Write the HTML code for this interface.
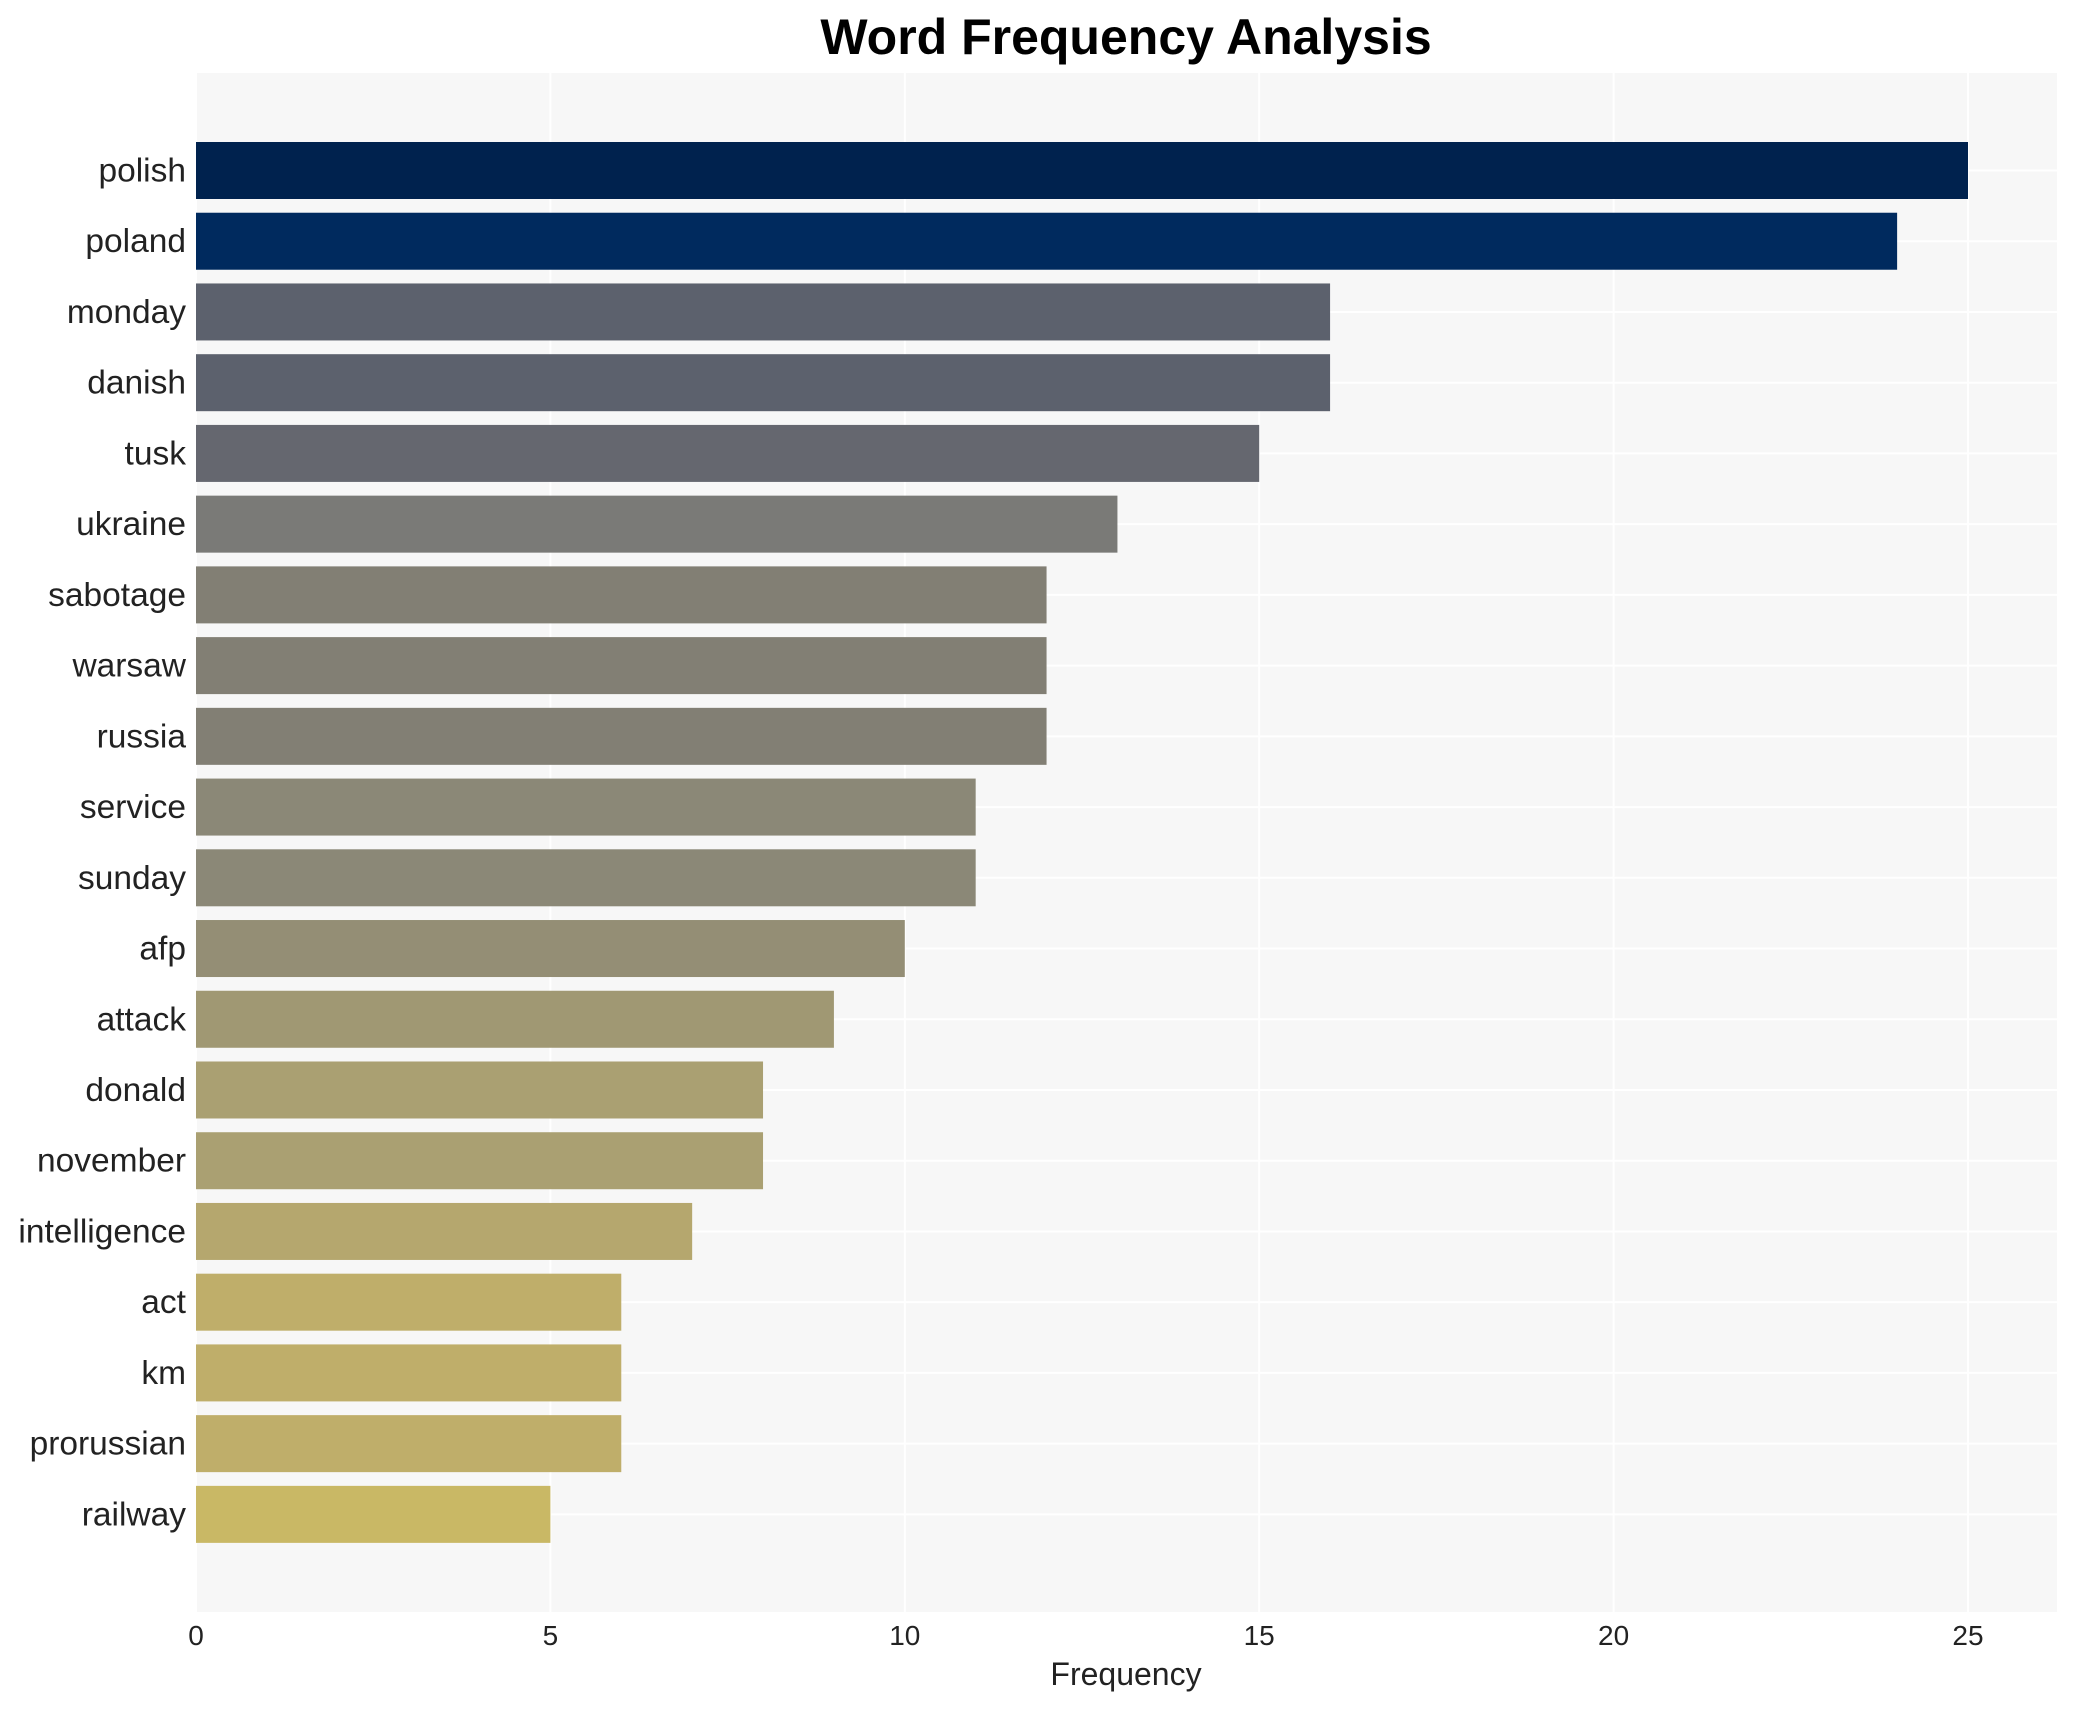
<!DOCTYPE html>
<html><head><meta charset="utf-8"><style>
body{margin:0;background:#fff;}
svg{display:block;font-family:"Liberation Sans",Arial,sans-serif;}
</style></head><body>
<svg id="chart" width="2076" height="1710" xmlns="http://www.w3.org/2000/svg">
<rect x="0" y="0" width="2076" height="1710" fill="#ffffff"/>
<text x="1126" y="54" text-anchor="middle" font-size="50" font-weight="bold" fill="#000">Word Frequency Analysis</text>
<rect x="196" y="73" width="1861" height="1539" fill="#f7f7f7"/>
<g id="grid"></g>
<g id="bars"></g>
<g id="xticks"></g>
<g id="yticks"></g>
<text x="1126" y="1685" text-anchor="middle" font-size="32" fill="#222">Frequency</text>
</svg>
<script>
const categories = ["polish","poland","monday","danish","tusk","ukraine","sabotage","warsaw","russia","service","sunday","afp","attack","donald","november","intelligence","act","km","prorussian","railway"];
const values = [25,24,16,16,15,13,12,12,12,11,11,10,9,8,8,7,6,6,6,5];
const barColors = ["#00224e","#002a5e","#5c616d","#5c616d","#65676f","#7a7a77","#827f74","#827f74","#827f74","#8b8877","#8b8877","#948e75","#a09873","#aaa072","#aaa072","#b5a76e","#bfae6a","#bfae6a","#bfae6a","#c9b865"];
const xTicks = [0,5,10,15,20,25];

const NS="http://www.w3.org/2000/svg";
const x0=196, xUnit=(1968-196)/25;
const xScale=v=>x0+v*xUnit;
const y0=170.5, yStep=70.73, barH=57;
const yScale=i=>y0+i*yStep;
function mk(tag,attrs){const e=document.createElementNS(NS,tag);for(const k in attrs)e.setAttribute(k,attrs[k]);return e;}

const grid=document.getElementById('grid');
xTicks.forEach(t=>{
  const l=mk('line',{x1:xScale(t),x2:xScale(t),y1:73,y2:1612,stroke:'#ffffff','stroke-width':2});
  
  
  grid.appendChild(l);
});
categories.forEach((c,i)=>{
  const l=mk('line',{x1:196,x2:2057,y1:yScale(i),y2:yScale(i),stroke:'#ffffff','stroke-width':2});
  
  
  grid.appendChild(l);
});
const bars=document.getElementById('bars');
categories.forEach((c,i)=>{
  const r=mk('rect',{x:xScale(0),y:yScale(i)-barH/2,width:xScale(values[i])-xScale(0),height:barH,fill:barColors[i]});
  
  
  bars.appendChild(r);
});
const xt=document.getElementById('xticks');
xTicks.forEach(t=>{
  const e=mk('text',{x:xScale(t),y:1645,'text-anchor':'middle','font-size':28,fill:'#222'});
  e.textContent=t;
  
  
  xt.appendChild(e);
});
const yt=document.getElementById('yticks');
categories.forEach((c,i)=>{
  const e=mk('text',{x:186,y:yScale(i)+11,'text-anchor':'end','font-size':33.5,fill:'#222'});
  e.textContent=c;
  
  
  yt.appendChild(e);
});
</script>
</body></html>
